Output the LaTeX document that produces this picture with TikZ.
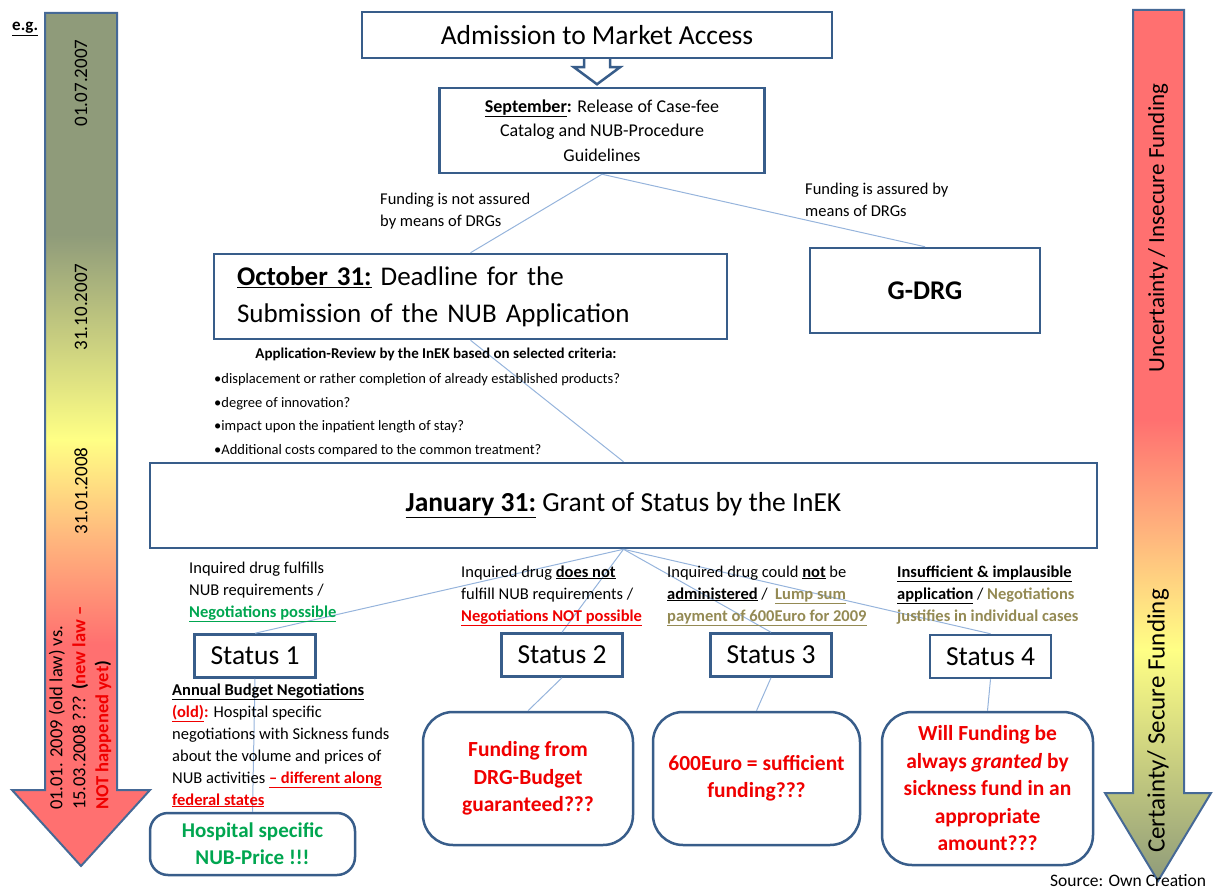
\documentclass[tikz,border=0pt]{standalone}
\usepackage{fontspec}
\setmainfont{Carlito}
\usetikzlibrary{calc}
\definecolor{boxblue}{RGB}{56,93,138}
\definecolor{arrowblue}{RGB}{70,105,150}
\definecolor{connblue}{RGB}{150,180,220}
\definecolor{mygreen}{RGB}{0,166,80}
\definecolor{myred}{RGB}{240,0,0}
\definecolor{myolive}{RGB}{148,138,84}
\definecolor{aolive}{RGB}{143,155,122}
\definecolor{ayellow}{RGB}{255,255,133}
\definecolor{aorange}{RGB}{255,180,125}
\definecolor{ared}{RGB}{255,112,112}
\pgfdeclareverticalshading{leftshade}{100bp}{color(0bp)=(ared); color(25bp)=(ared); color(38bp)=(ared); color(44bp)=(aorange); color(50bp)=(ayellow); color(62bp)=(aolive); color(100bp)=(aolive)}
\pgfdeclareverticalshading{rightshade}{100bp}{color(0bp)=(aolive); color(25bp)=(aolive); color(38.3bp)=(ayellow); color(45bp)=(aorange); color(51.5bp)=(ared); color(100bp)=(ared)}
\newcommand{\myul}[1]{\underline{#1}}
\newcommand{\fs}[2]{\fontsize{#1}{#2}\selectfont}
\begin{document}
\begin{tikzpicture}[x=1pt,y=-1pt,
  box/.style={draw=boxblue, line width=2.5pt, fill=white, inner sep=0pt},
  sbox/.style={box, minimum width=121pt, minimum height=43pt, font=\fs{27.5}{33}},
  rbox/.style={box, rounded corners=30pt, align=center, font=\fs{21.5}{27.5}\bfseries, text=myred},
  conn/.style={draw=connblue, line width=1pt},
  lbl/.style={anchor=base west, align=left, inner sep=0pt, font=\fs{16.5}{22}},
  rot/.style={rotate=90, inner sep=0pt},
  bigarrow/.style={draw=arrowblue, line width=2pt, line join=miter}]
\useasboundingbox (0,0) rectangle (1213,893);

% side arrows
\path[bigarrow, shading=leftshade] (45,13) -- (117,13) -- (117,790) -- (150,790) -- (81,866) -- (12,790) -- (45,790) -- cycle;
\path[bigarrow, shading=rightshade] (1133,10) -- (1184,10) -- (1184,793) -- (1211,793) -- (1158,881) -- (1105,793) -- (1133,793) -- cycle;

\node[anchor=base west, inner sep=0pt, font=\fs{17}{20}\bfseries] (eg) at (12,31) {\myul{e.g.}};
\node[rot, font=\fs{19}{21}] (d1) at (81,83) {01.07.2007};
\node[rot, font=\fs{19}{21}] (d2) at (81,307) {31.10.2007};
\node[rot, font=\fs{19}{21}] (d3) at (81,491) {31.01.2008};
\node[rot, anchor=west, align=left, font=\fs{18.5}{23}] (law) at (80,810) {01.01. 2009 (old law)\ vs.\\15.03.2008 ??? \textbf{(}\textcolor{myred}{\textbf{new law –}}\\\textcolor{myred}{\textbf{NOT happened yet}}\textbf{)}};
\node[rot, font=\fs{23}{26}] (unc) at (1158,228) {Uncertainty / Insecure Funding};
\node[rot, font=\fs{25}{28}] (cer) at (1158,721) {Certainty/ Secure Funding};

% main boxes
\node[box, minimum width=470pt, minimum height=46pt, font=\fs{27.5}{33}] (title) at (597,35) {Admission to Market Access};
\draw[draw=boxblue, line width=2.5pt, fill=white, line join=miter]
  ($(title.south)+(-13,0)$) -- ($(title.south)+(-13,8)$) -- ($(title.south)+(-23,8)$) -- ($(title.south)+(0,25)$)
  -- ($(title.south)+(23,8)$) -- ($(title.south)+(13,8)$) -- ($(title.south)+(13,0)$);

\node[box, minimum width=325pt, minimum height=85pt, align=center, font=\fs{18}{24.5}] (sept) at (602,130.5)
  {\myul{\textbf{September}}\textbf{:} Release of Case-fee\\Catalog and NUB-Procedure\\Guidelines};
\node[box, minimum width=513pt, minimum height=85pt, align=left, text width=467pt, inner xsep=0pt, font=\fs{27}{37}] (oct) at (470.5,296.5)
  {\myul{\textbf{October 31:}} Deadline for the\\Submission of the NUB Application};
\node[box, minimum width=230pt, minimum height=85pt, font=\fs{27}{32}\bfseries] (gdrg) at (925,290.5) {G-DRG};
\node[box, minimum width=947pt, minimum height=85pt, font=\fs{27.5}{33}] (jan) at (623.5,505.5)
  {\myul{\textbf{January 31:}} Grant of Status by the InEK};

\node[sbox] (s1) at (255,656) {Status 1};
\node[sbox] (s2) at (562,655) {Status 2};
\node[sbox] (s3) at (771,655) {Status 3};
\node[sbox] (s4) at (990.5,656.5) {Status 4};

\node[box, rounded corners=18pt, minimum width=205pt, minimum height=62pt, align=center, font=\fs{21}{27}\bfseries, text=mygreen] (hosp) at (252.5,844)
  {Hospital specific\\NUB-Price !!!};
\node[rbox, minimum width=210pt, minimum height=133pt] (b2) at (528,778.5) {Funding from\\DRG-Budget\\guaranteed???};
\node[rbox, minimum width=207pt, minimum height=133pt] (b3) at (756.5,778.5) {600Euro = sufficient\\funding???};
\node[rbox, minimum width=211pt, minimum height=153pt] (b4) at (987.5,788.5) {Will Funding be\\always \textit{granted} by\\sickness fund in an\\appropriate\\amount???};

% connectors
\draw[conn] (sept.south) -- (oct.north);
\draw[conn] (sept.south) -- (gdrg.north);
\draw[conn] (oct.south) -- (jan.north);
\draw[conn] (jan.south) -- (s1.north);
\draw[conn] (jan.south) -- (s2.north);
\draw[conn] (jan.south) -- (s3.north);
\draw[conn] (jan.south) -- (s4.north);
\draw[conn] (s1.south) -- (hosp.north);
\draw[conn] (s2.south) -- (b2.north);
\draw[conn] (s3.south) -- (b3.north);
\draw[conn] (s4.south) -- (b4.north);

% labels (anchor = baseline of the last line)
\node[lbl] (nf) at (380,227) {Funding is not assured\\by means of DRGs};
\node[lbl] (fa) at (805,217) {Funding is assured by\\means of DRGs};
\node[inner sep=0pt, font=\fs{15}{18}\bfseries] (appr) at (436,354) {Application-Review by the InEK based on selected criteria:};
\node[lbl, font=\fs{14.5}{23.5}] (crit) at (214,454) {•displacement or rather completion of already established products?\\•degree of innovation?\\•impact upon the inpatient length of stay?\\•Additional costs compared to the common treatment?};

\node[lbl] (l1) at (189,617) {Inquired drug fulfills\\NUB requirements /\\\textcolor{mygreen}{\myul{\textbf{Negotiations possible}}}};
\node[lbl] (l2) at (461,621) {Inquired drug \myul{\textbf{does not}}\\fulfill NUB requirements /\\\textcolor{myred}{\myul{\textbf{Negotiations NOT possible}}}};
\node[lbl] (l3) at (667,621) {Inquired drug could \myul{\textbf{not}} be\\\myul{\textbf{administered}} /\ \ \textcolor{myolive}{\myul{\textbf{Lump sum}}}\\\textcolor{myolive}{\myul{\textbf{payment of 600Euro for 2009}}}};
\node[lbl] (l4) at (897,621) {\myul{\textbf{Insufficient \& implausible}}\\\myul{\textbf{application}} / \textcolor{myolive}{\textbf{Negotiations}}\\\textcolor{myolive}{\textbf{justifies in individual cases}}};

\node[lbl] (desc) at (172,805) {\myul{\textbf{Annual Budget Negotiations}}\\\textcolor{myred}{\myul{\textbf{(old)}}\textbf{:}} Hospital specific\\negotiations with Sickness funds\\about the volume and prices of\\NUB activities \textcolor{myred}{\myul{\textbf{– different along}}}\\\textcolor{myred}{\myul{\textbf{federal states}}}};

\node[lbl, font=\fs{17.5}{20}] (src) at (1050,886) {Source: Own Creation};
\end{tikzpicture}
\end{document}
